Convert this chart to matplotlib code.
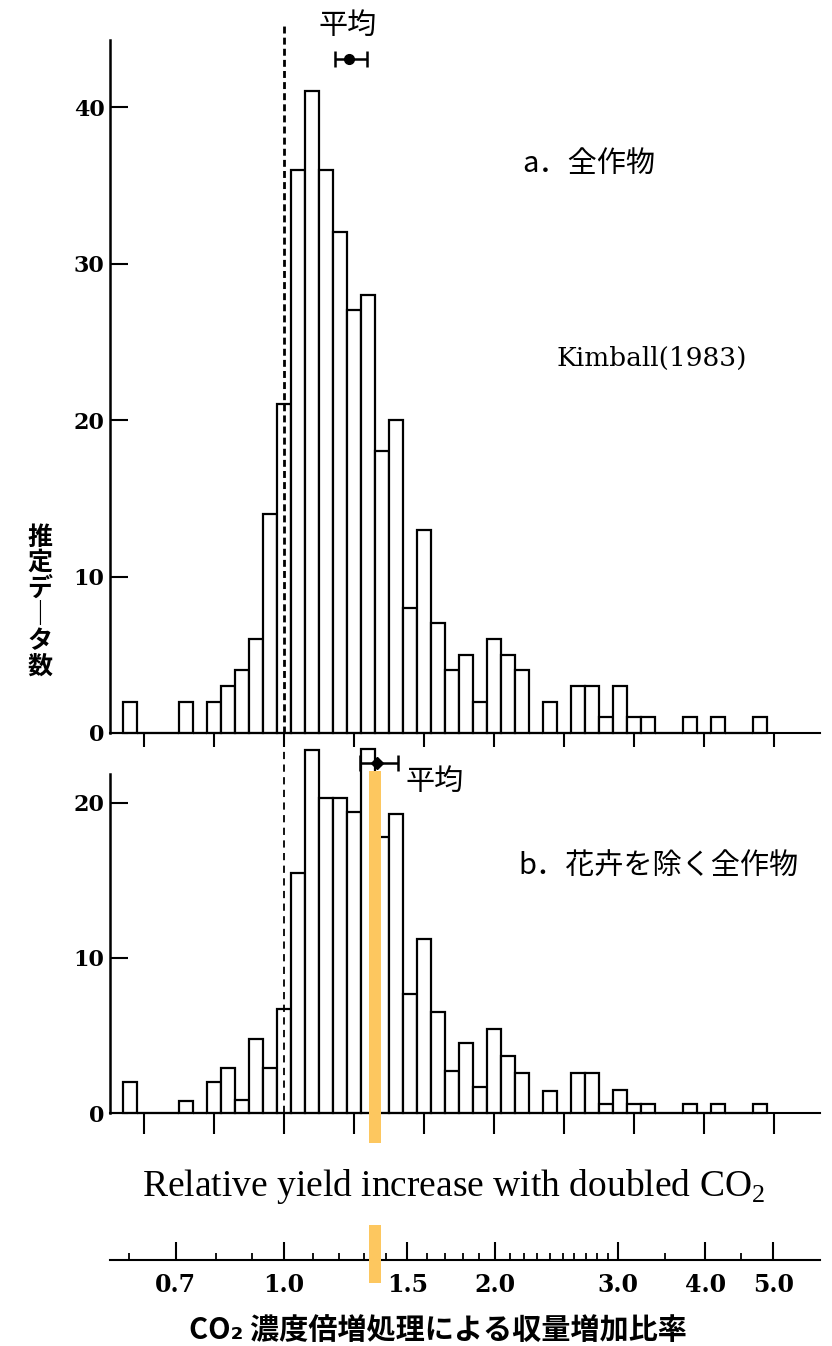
import numpy as np
import matplotlib.pyplot as plt
from matplotlib.patches import Rectangle
from matplotlib.transforms import blended_transform_factory

plt.rcParams['font.family'] = ['Noto Sans CJK JP', 'DejaVu Sans']
plt.rcParams['mathtext.fontset'] = 'custom'
plt.rcParams['mathtext.rm'] = 'Liberation Serif'

# histogram bins are centred on 10**(0.02*k), k = -11 ... 34
bin_step = 0.02
bin_k = np.arange(-11, 35)
counts_all = [2, 0, 0, 0, 2, 0, 2, 3, 4, 6, 14, 21, 36, 41, 36, 32, 27, 28, 18, 20,
              8, 13, 7, 4, 5, 2, 6, 5, 4, 0, 2, 0, 3, 3, 1, 3, 1, 1, 0, 0,
              1, 0, 1, 0, 0, 1]
counts_no_flower = [2, 0, 0, 0, 0.8, 0, 2, 2.9, 0.85, 4.8, 2.9, 6.7, 15.5, 23.4, 20.3, 20.3,
                    19.4, 23.5, 17.8, 19.3, 7.7, 11.2, 6.5, 2.7, 4.5, 1.7, 5.4, 3.7, 2.6, 0,
                    1.4, 0, 2.6, 2.6, 0.6, 1.5, 0.6, 0.6, 0, 0, 0.6, 0, 0.6, 0, 0, 0.6]

mean_all, mean_all_lo, mean_all_hi = 1.238, 1.183, 1.314
mean_nf, mean_nf_lo, mean_nf_hi = 1.358, 1.284, 1.455
highlight = 1.349

panel_ticks = 10 ** (0.1 * np.arange(-2, 8))
scale_major = [0.7, 1.0, 1.5, 2.0, 3.0, 4.0, 5.0]
scale_labels = ['0.7', '1.0', '1.5', '2.0', '3.0', '4.0', '5.0']
scale_minor = [0.6, 0.8, 0.9, 1.1, 1.2, 1.3, 1.4, 1.6, 1.7, 1.8, 1.9,
               2.1, 2.2, 2.3, 2.4, 2.5, 2.6, 2.7, 2.8, 2.9, 3.5, 4.5]

W, H = 832, 1346
fig = plt.figure(figsize=(W / 100, H / 100), dpi=100, facecolor='white')


def px_axes(left, top, right, bottom):
    return fig.add_axes([left / W, 1 - bottom / H, (right - left) / W, (bottom - top) / H])


xlim = (0.5642, 5.832)
left_edges = 10 ** (bin_step * (bin_k - 0.5))
widths = 10 ** (bin_step * (bin_k + 0.5)) - left_edges

ax1 = px_axes(110, 10, 820, 733)
ax2 = px_axes(110, 741, 820, 1113)
ax3 = px_axes(110, 1220, 820, 1260)

for ax, counts, ytop, spine_top, ticklen in [(ax1, counts_all, 46.2, 44.3, 10),
                                              (ax2, counts_no_flower, 24.0, 21.9, 15)]:
    ax.patch.set_visible(False)
    ax.bar(left_edges, counts, width=widths, align='edge', facecolor='white',
           edgecolor='black', linewidth=1.6, zorder=2, clip_on=False)
    ax.set_xscale('log')
    ax.set_xlim(*xlim)
    ax.set_ylim(0, ytop)
    for s in ['top', 'right']:
        ax.spines[s].set_visible(False)
    ax.spines['left'].set_bounds(0, spine_top)
    ax.spines['left'].set_linewidth(1.8)
    ax.spines['bottom'].set_linewidth(1.5)
    ax.set_xticks(panel_ticks)
    ax.set_xticks([], minor=True)
    ax.tick_params(axis='x', direction='out', length=ticklen, width=1.5, labelbottom=False)
    ax.tick_params(axis='y', direction='in', length=13, width=1.5, pad=4,
                   labelsize=16, labelfontfamily='DejaVu Serif')

ax1.set_yticks([0, 10, 20, 30, 40])
ax2.set_yticks([0, 10, 20])
for lbl in ax1.get_yticklabels() + ax2.get_yticklabels():
    lbl.set_fontweight('bold')

ax1.plot([1, 1], [0, 45.4], color='black', ls=(0, (2.5, 1.5)), lw=2, zorder=3, clip_on=False)
ax2.plot([1, 1], [0, 23.7], color='black', ls=(0, (4, 3)), lw=1.3, zorder=3, clip_on=False)

ax1.errorbar(mean_all, 43.1, xerr=[[mean_all - mean_all_lo], [mean_all_hi - mean_all]],
             fmt='o', color='black', ms=7, elinewidth=1.8, capsize=6, capthick=1.8,
             clip_on=False, zorder=4)
ax1.text(1.234, 45.2, '平均', ha='center', va='center', fontsize=21)
ax2.errorbar(mean_nf, 22.6, xerr=[[mean_nf - mean_nf_lo], [mean_nf_hi - mean_nf]],
             fmt='D', color='black', ms=6, elinewidth=1.8, capsize=6, capthick=1.8,
             clip_on=False, zorder=4)
ax2.text(1.643, 21.35, '平均', ha='center', va='center', fontsize=21)

# separate ratio scale at the bottom
ax3.patch.set_visible(False)
ax3.set_xscale('log')
ax3.set_xlim(*xlim)
ax3.set_ylim(0, 1)
for s in ['top', 'right', 'left']:
    ax3.spines[s].set_visible(False)
ax3.spines['bottom'].set_linewidth(1.5)
ax3.set_yticks([])
ax3.set_xticks(scale_major)
ax3.set_xticklabels(scale_labels)
ax3.set_xticks(scale_minor, minor=True)
ax3.xaxis.set_minor_formatter(plt.NullFormatter())
ax3.tick_params(axis='x', which='major', direction='in', length=13, width=1.5, pad=9,
                labelsize=17, labelfontfamily='DejaVu Serif')
ax3.tick_params(axis='x', which='minor', direction='in', length=5, width=1.3)
for lbl in ax3.get_xticklabels():
    lbl.set_fontweight('bold')

# orange marker
trans = blended_transform_factory(ax2.transData, fig.transFigure)
hx0 = highlight * 10 ** -0.0086
hx1 = highlight * 10 ** 0.0086
for y_top, y_bot in [(771, 1143), (1225, 1283)]:
    fig.add_artist(Rectangle((hx0, 1 - y_bot / H), hx1 - hx0, (y_bot - y_top) / H,
                             transform=trans, facecolor='#FDC75F', edgecolor='none', zorder=10))

fig.text(40 / W, 1 - 602 / H, '推\n定\nデ\n｜\nタ\n数', ha='center', va='center',
         fontsize=18, fontweight='bold', linespacing=1.08)
fig.text(522 / W, 1 - 164 / H, 'a．全作物', ha='left', va='center', fontsize=21)
fig.text(652 / W, 1 - 358 / H, 'Kimball(1983)', ha='center', va='center',
         fontsize=19, family='DejaVu Serif')
fig.text(518 / W, 1 - 866 / H, 'b．花卉を除く全作物', ha='left', va='center', fontsize=21)
fig.text(454 / W, 1 - 1187 / H, r'Relative yield increase with doubled CO$_\mathrm{2}$',
         ha='center', va='center', fontsize=27, family='Liberation Serif')
fig.text(438 / W, 1 - 1330 / H, 'CO₂ 濃度倍増処理による収量増加比率', ha='center', va='center',
         fontsize=21, fontweight='bold')

fig.savefig('out.png', dpi=100, facecolor='white')
